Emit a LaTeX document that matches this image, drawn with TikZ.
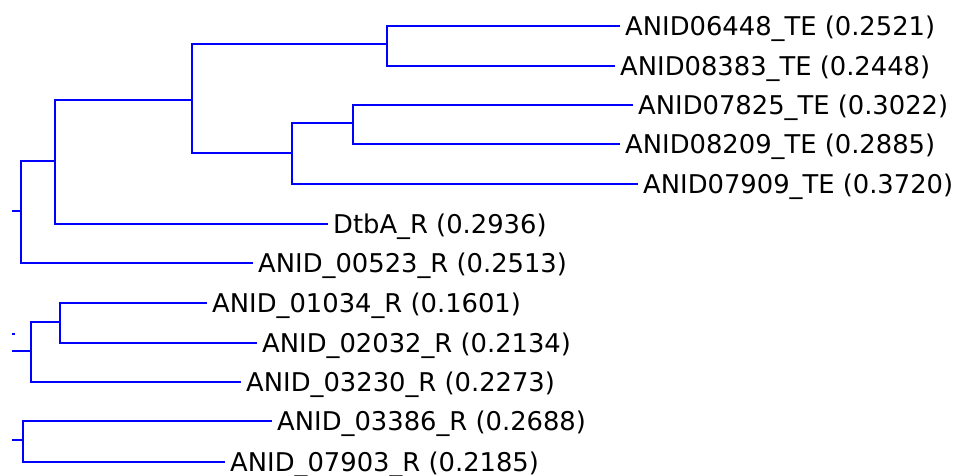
\documentclass[tikz,border=0pt]{standalone}
\usepackage{fontspec}
\setmainfont{DejaVu Sans}
\definecolor{treeblue}{RGB}{0,0,255}
\begin{document}
\begin{tikzpicture}[x=1pt,y=-1pt,
  branch/.style={draw=treeblue,line width=2.4pt},
  leaf/.style={anchor=west,inner xsep=5pt,inner ysep=0pt,text height=18.8pt,text depth=0pt,
    font=\fontsize{25.8pt}{30pt}\selectfont,text=black}]
\useasboundingbox (0,0) rectangle (961,475);
% leaf labels
\node[leaf] (L1) at (620,26) {ANID06448\_TE (0.2521)};
\node[leaf] (L2) at (615,66) {ANID08383\_TE (0.2448)};
\node[leaf] (L3) at (633,105) {ANID07825\_TE (0.3022)};
\node[leaf] (L4) at (620,144) {ANID08209\_TE (0.2885)};
\node[leaf] (L5) at (638,184) {ANID07909\_TE (0.3720)};
\node[leaf] (L6) at (328,224) {DtbA\_R (0.2936)};
\node[leaf] (L7) at (253,263) {ANID\_00523\_R (0.2513)};
\node[leaf] (L8) at (207,303) {ANID\_01034\_R (0.1601)};
\node[leaf] (L9) at (257,343) {ANID\_02032\_R (0.2134)};
\node[leaf] (L10) at (241,382) {ANID\_03230\_R (0.2273)};
\node[leaf] (L11) at (272,421) {ANID\_03386\_R (0.2688)};
\node[leaf] (L12) at (225,462) {ANID\_07903\_R (0.2185)};
% internal nodes
\coordinate (n1) at (21,211);
\coordinate (n2) at (55,161);
\coordinate (n3) at (192,100);
\coordinate (n4) at (387,44);
\coordinate (n5) at (292,153);
\coordinate (n6) at (353,123);
\coordinate (n7) at (31,351);
\coordinate (n8) at (60,322);
\coordinate (n9) at (23,440);
\coordinate (r1) at (12,211);
\coordinate (r2) at (12,351);
\coordinate (r3) at (12,440);
\coordinate (d1) at (12,334);
\coordinate (d2) at (15,334);
% first tree
\draw[branch] (r1) -- (n1);
\draw[branch] (n1) |- (n2);
\draw[branch] (n1) |- (L7.west);
\draw[branch] (n2) |- (n3);
\draw[branch] (n2) |- (L6.west);
\draw[branch] (n3) |- (n4);
\draw[branch] (n3) |- (n5);
\draw[branch] (n4) |- (L1.west);
\draw[branch] (n4) |- (L2.west);
\draw[branch] (n5) |- (n6);
\draw[branch] (n5) |- (L5.west);
\draw[branch] (n6) |- (L3.west);
\draw[branch] (n6) |- (L4.west);
% second tree
\draw[branch] (d1) -- (d2);
\draw[branch] (r2) -- (n7);
\draw[branch] (n7) |- (n8);
\draw[branch] (n7) |- (L10.west);
\draw[branch] (n8) |- (L8.west);
\draw[branch] (n8) |- (L9.west);
% third tree
\draw[branch] (r3) -- (n9);
\draw[branch] (n9) |- (L11.west);
\draw[branch] (n9) |- (L12.west);
\end{tikzpicture}
\end{document}
